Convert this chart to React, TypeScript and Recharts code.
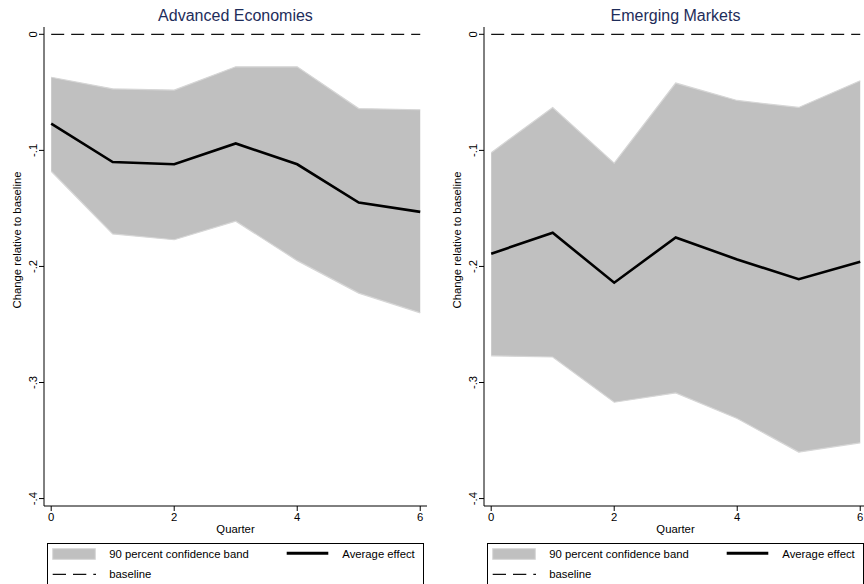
import { ComposedChart, Area, Line, XAxis, YAxis } from 'recharts';

const quarters = [0, 1, 2, 3, 4, 5, 6];

// Advanced Economies
const advMean = [-0.077, -0.110, -0.112, -0.094, -0.112, -0.145, -0.153];
const advUpper = [-0.037, -0.047, -0.048, -0.028, -0.028, -0.064, -0.065];
const advLower = [-0.118, -0.172, -0.177, -0.161, -0.195, -0.223, -0.240];

// Emerging Markets
const emMean = [-0.189, -0.171, -0.214, -0.175, -0.194, -0.211, -0.196];
const emUpper = [-0.102, -0.063, -0.111, -0.042, -0.057, -0.063, -0.040];
const emLower = [-0.277, -0.278, -0.317, -0.309, -0.331, -0.360, -0.352];

const baseline = [0, 0, 0, 0, 0, 0, 0];

const xTicks = [0, 2, 4, 6];
const yTicks = [-0.4, -0.3, -0.2, -0.1, 0];
const yTickLabels = ['-.4', '-.3', '-.2', '-.1', '0'];

const FONT = '"Liberation Sans", Arial, sans-serif';
const BAND = '#c0c0c0';
const BAND_EDGE = '#d6d6d6';
const TITLE = '#1e2d5a';

const YTick = (props: any) => {
  const { x, y, payload } = props;
  const i = yTicks.findIndex((t) => Math.abs(t - payload.value) < 1e-9);
  return (
    <text
      x={x}
      y={y}
      transform={`rotate(-90, ${x}, ${y})`}
      textAnchor="middle"
      fontSize={11.3}
      fontFamily={FONT}
      fill="#000"
    >
      {i >= 0 ? yTickLabels[i] : payload.value}
    </text>
  );
};

interface PanelProps {
  title: string;
  mean: number[];
  upper: number[];
  lower: number[];
  left: number;
}

const Panel = ({ title, mean, upper, lower, left }: PanelProps) => {
  const data = quarters.map((q, i) => ({
    quarter: q,
    band: [lower[i], upper[i]],
    mean: mean[i],
    baseline: baseline[i],
  }));

  return (
    <div style={{ position: 'absolute', left, top: 0, width: 428, height: 584 }}>
      <ComposedChart
        width={428}
        height={584}
        data={data}
        margin={{ top: 27, right: 1, left: 0, bottom: 48 }}
        style={{ fontFamily: FONT }}
      >
        <XAxis
          dataKey="quarter"
          type="number"
          domain={[-0.117, 6.11]}
          ticks={xTicks}
          allowDataOverflow
          height={30}
          tickSize={5}
          tickMargin={2}
          stroke="#000"
          tick={{ fill: '#000', fontSize: 11.3 }}
          label={{ value: 'Quarter', position: 'insideBottom', offset: 3, fill: '#000', fontSize: 11.3 }}
        />
        <YAxis
          type="number"
          domain={[-0.4064, 0.0063]}
          ticks={yTicks}
          allowDataOverflow
          width={44}
          tickSize={5}
          tickMargin={2}
          stroke="#000"
          tick={<YTick />}
        />
        <Area
          dataKey="band"
          type="linear"
          fill={BAND}
          fillOpacity={1}
          stroke={BAND_EDGE}
          strokeWidth={1.2}
          isAnimationActive={false}
        />
        <Line
          dataKey="baseline"
          type="linear"
          stroke="#111"
          strokeWidth={1.2}
          strokeDasharray="13 7"
          dot={false}
          isAnimationActive={false}
        />
        <Line
          dataKey="mean"
          type="linear"
          stroke="#000"
          strokeWidth={2.6}
          dot={false}
          isAnimationActive={false}
        />
      </ComposedChart>
      <svg
        width={428}
        height={584}
        style={{ position: 'absolute', left: 0, top: 0, pointerEvents: 'none', fontFamily: FONT }}
      >
        <text x={235.5} y={21} textAnchor="middle" fontSize={16} fill={TITLE}>
          {title}
        </text>
        <text x={21} y={240} transform="rotate(-90, 21, 240)" textAnchor="middle" fontSize={11.3} fill="#000">
          Change relative to baseline
        </text>
        <rect x={47.5} y={543.5} width={376} height={60} fill="#fff" stroke="#000" strokeWidth={1} />
        <rect x={52.7} y={548.7} width={42.6} height={10.6} fill={BAND} stroke={BAND_EDGE} strokeWidth={1} />
        <text x={109.3} y={557.6} fontSize={11.3} fill="#000">90 percent confidence band</text>
        <line x1={286.7} x2={328.3} y1={553.3} y2={553.3} stroke="#000" strokeWidth={3} />
        <text x={342.3} y={557.6} fontSize={11.3} fill="#000">Average effect</text>
        <line x1={52.7} x2={96} y1={574.3} y2={574.3} stroke="#111" strokeWidth={1.2} strokeDasharray="13.3 7" />
        <text x={109.3} y={578} fontSize={11.3} fill="#000">baseline</text>
      </svg>
    </div>
  );
};

export default function App() {
  return (
    <div style={{ position: 'absolute', left: 0, top: 0, width: 864, height: 584, background: '#fff', overflow: 'hidden' }}>
      <Panel title="Advanced Economies" mean={advMean} upper={advUpper} lower={advLower} left={0} />
      <Panel title="Emerging Markets" mean={emMean} upper={emUpper} lower={emLower} left={439.5} />
    </div>
  );
}
